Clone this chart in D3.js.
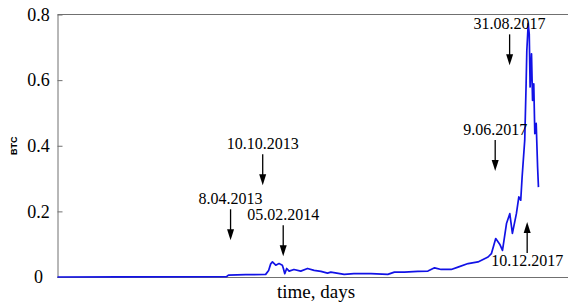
<!DOCTYPE html>
<html>
<head>
<meta charset="utf-8">
<script src="https://cdn.jsdelivr.net/npm/d3@7"></script>
<style>
  body { margin: 0; background: #fff; }
  svg { display: block; }
  .serif { font-family: 'Liberation Serif', Tinos, 'Times New Roman', Times, 'DejaVu Serif', 'Noto Serif', serif; }
</style>
</head>
<body>
<div class="chart-wrapper"></div>
<script>
// days since 17.07.2010 and the value in BTC
const startDate = '17.07.2010';
const endDate = '02.08.2018';
const days = [0, 361, 973, 984, 1083, 1198, 1215, 1227, 1237, 1256, 1275, 1294, 1300, 1308, 1319,
  1333, 1361, 1400, 1439, 1477, 1516, 1554, 1573, 1650, 1706, 1804, 1901, 1939, 1997, 2074,
  2132, 2170, 2208, 2266, 2305, 2363, 2420, 2478, 2497, 2522, 2545, 2561, 2584, 2603, 2618,
  2641, 2655, 2666, 2674, 2689, 2697, 2701, 2709, 2715, 2720, 2728, 2734, 2741, 2747, 2755,
  2763, 2768];
const btc = [0, 0.0005, 0.001, 0.006, 0.007, 0.008, 0.02, 0.04, 0.046, 0.036, 0.041, 0.036, 0.026, 0.010, 0.026,
  0.018, 0.023, 0.018, 0.026, 0.020, 0.017, 0.012, 0.015, 0.008, 0.010, 0.010, 0.008, 0.015, 0.015, 0.017,
  0.018, 0.028, 0.023, 0.023, 0.030, 0.041, 0.046, 0.061, 0.071, 0.117, 0.100, 0.081, 0.163, 0.193, 0.133,
  0.193, 0.244, 0.234, 0.305, 0.417, 0.589, 0.690, 0.772, 0.740, 0.579, 0.680, 0.538, 0.589, 0.437, 0.468,
  0.335, 0.274];

const yTicks = [0, 0.2, 0.4, 0.6, 0.8];

// annotated dates, arrow tips in BTC units, arrow direction
const eventLabels = ['8.04.2013', '10.10.2013', '05.02.2014', '9.06.2017', '31.08.2017', '10.12.2017'];
const eventTips = [0.112, 0.28, 0.063, 0.323, 0.645, 0.168];
const eventUp = [false, false, false, false, false, true];

const width = 568, height = 303;
const margin = { top: 14.5, right: 0, bottom: 26, left: 57.5 };

const parse = d3.timeParse('%d.%m.%Y');
const t0 = parse(startDate);
const data = days.map((d, i) => ({ date: d3.timeDay.offset(t0, d), value: btc[i] }));

const x = d3.scaleTime()
  .domain([t0, parse(endDate)])
  .range([margin.left, width - margin.right]);
const y = d3.scaleLinear()
  .domain([0, 0.8])
  .range([height - margin.bottom, margin.top]);

const svg = d3.select('.chart-wrapper')
  .append('svg')
  .attr('width', width)
  .attr('height', height);

const frame = '#707070';

// frame: top and bottom lines
svg.append('line')
  .attr('x1', x.range()[0]).attr('x2', x.range()[1])
  .attr('y1', y(0.8)).attr('y2', y(0.8))
  .attr('stroke', frame);
svg.append('line')
  .attr('x1', x.range()[0]).attr('x2', x.range()[1])
  .attr('y1', y(0) + 0.5).attr('y2', y(0) + 0.5)
  .attr('stroke', frame);

// y axis with inward ticks
const yAxis = d3.axisLeft(y)
  .tickValues(yTicks)
  .tickSize(-5)
  .tickSizeOuter(0)
  .tickFormat(d3.format(''));

const gy = svg.append('g')
  .attr('transform', 'translate(' + margin.left + ',0)')
  .call(yAxis)
  .attr('font-family', null)
  .attr('font-size', null);
gy.select('.domain').attr('stroke', frame);
gy.selectAll('.tick line').attr('stroke', frame);
gy.selectAll('.tick text')
  .attr('class', 'serif')
  .attr('x', -19)
  .attr('text-anchor', 'middle')
  .attr('fill', '#000')
  .style('font-size', '18px');

// the series
svg.append('path')
  .datum(data)
  .attr('fill', 'none')
  .attr('stroke', '#1212e6')
  .attr('stroke-width', 1.7)
  .attr('stroke-linejoin', 'round')
  .attr('d', d3.line()
    .x(d => x(d.date))
    .y(d => y(d.value)));

// axis titles
svg.append('text')
  .attr('transform', 'translate(17,' + y(0.4) + ') rotate(-90)')
  .attr('text-anchor', 'middle')
  .style('font-family', 'Arial, "Liberation Sans", sans-serif')
  .style('font-weight', 'bold')
  .style('font-size', '9px')
  .text('BTC');

svg.append('text')
  .attr('class', 'serif')
  .attr('x', 316)
  .attr('y', 298)
  .attr('text-anchor', 'middle')
  .style('font-size', '19px')
  .text('time, days');

// annotations with arrows
const arrowLen = 31, gap = 5;
const events = svg.selectAll('.event')
  .data(eventLabels)
  .enter()
  .append('g')
  .attr('class', 'event')
  .attr('transform', (d, i) => 'translate(' + x(parse(d)) + ',' + y(eventTips[i]) + ')');

events.append('line')
  .attr('x1', 0).attr('x2', 0)
  .attr('y1', (d, i) => eventUp[i] ? arrowLen : -arrowLen)
  .attr('y2', (d, i) => eventUp[i] ? 6 : -6)
  .attr('stroke', '#000')
  .attr('stroke-width', 1.3);

events.append('path')
  .attr('d', (d, i) => eventUp[i] ? 'M0,0L-3.5,11L3.5,11Z' : 'M0,0L-3.5,-11L3.5,-11Z')
  .attr('fill', '#000');

events.append('text')
  .attr('class', 'serif')
  .attr('x', 0)
  .attr('y', (d, i) => eventUp[i] ? arrowLen + 13 : -arrowLen - gap)
  .attr('text-anchor', 'middle')
  .style('font-size', '16px')
  .text(d => d);
</script>
</body>
</html>
